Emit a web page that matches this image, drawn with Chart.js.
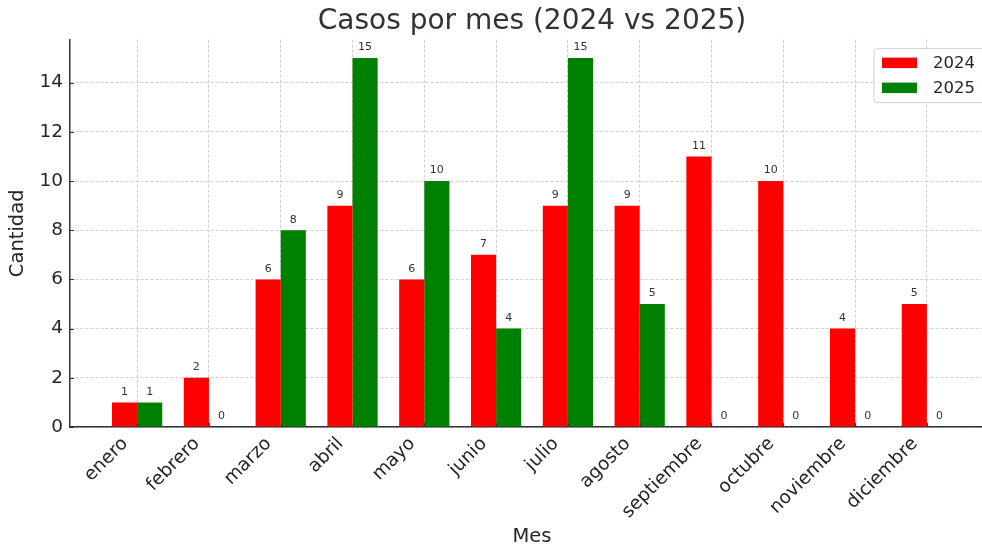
<!DOCTYPE html>
<html>
<head>
<meta charset="utf-8">
<script src="https://cdn.jsdelivr.net/npm/chart.js@4"></script>
<style>
html,body{margin:0;padding:0;background:#fff;overflow:hidden;}
#wrap{width:1000px;height:550px;}
</style>
</head>
<body>
<div id="wrap"><canvas id="c" width="1000" height="550"></canvas></div>
<script>
const months = ["enero","febrero","marzo","abril","mayo","junio","julio","agosto","septiembre","octubre","noviembre","diciembre"];
const casos2024 = [1,2,6,9,6,7,9,9,11,10,4,5];
const casos2025 = [1,0,8,15,10,4,15,5,0,0,0,0];
const yTicks = [0,2,4,6,8,10,12,14];
const seriesNames = ["2024","2025"];
const seriesColors = ["#ff0000","#008000"];

const FONT = "'DejaVu Sans', sans-serif";
const TXT = "#262626";

const valueLabels = {
  id: 'valueLabels',
  afterDatasetsDraw(chart) {
    const ctx = chart.ctx;
    ctx.save();
    ctx.font = "11px " + FONT;
    ctx.fillStyle = "#333";
    ctx.textAlign = "center";
    ctx.textBaseline = "bottom";
    chart.data.datasets.forEach((ds, di) => {
      const meta = chart.getDatasetMeta(di);
      meta.data.forEach((el, i) => {
        ctx.fillText(String(ds.data[i].y), el.x, el.y - 5);
      });
    });
    ctx.restore();
  }
};

// inward tick marks like the reference
const innerTicks = {
  id: 'innerTicks',
  afterDraw(chart) {
    const ctx = chart.ctx;
    const a = chart.chartArea;
    const xs = chart.scales.x, ys = chart.scales.y;
    ctx.save();
    ctx.strokeStyle = '#333';
    ctx.lineWidth = 1.2;
    ctx.beginPath();
    xs.ticks.forEach(t => {
      const px = Math.round(xs.getPixelForValue(t.value)) + 0.5;
      ctx.moveTo(px, a.bottom);
      ctx.lineTo(px, a.bottom - 4);
    });
    ys.ticks.forEach(t => {
      const py = Math.round(ys.getPixelForValue(t.value)) + 0.5;
      ctx.moveTo(a.left, py);
      ctx.lineTo(a.left + 4, py);
    });
    ctx.stroke();
    ctx.restore();
  }
};

const boxLegend = {
  id: 'boxLegend',
  afterDraw(chart) {
    const ctx = chart.ctx;
    const a = chart.chartArea;
    const x0 = a.right - 120, y0 = a.top + 9, w = 114, h = 54;
    ctx.save();
    ctx.beginPath();
    const r = 4;
    ctx.moveTo(x0 + r, y0);
    ctx.lineTo(x0 + w - r, y0);
    ctx.arcTo(x0 + w, y0, x0 + w, y0 + r, r);
    ctx.lineTo(x0 + w, y0 + h - r);
    ctx.arcTo(x0 + w, y0 + h, x0 + w - r, y0 + h, r);
    ctx.lineTo(x0 + r, y0 + h);
    ctx.arcTo(x0, y0 + h, x0, y0 + h - r, r);
    ctx.lineTo(x0, y0 + r);
    ctx.arcTo(x0, y0, x0 + r, y0, r);
    ctx.closePath();
    ctx.fillStyle = "rgba(255,255,255,0.85)";
    ctx.fill();
    ctx.strokeStyle = "#d0d0d0";
    ctx.lineWidth = 1;
    ctx.stroke();
    ctx.font = "16.5px " + FONT;
    ctx.textBaseline = "middle";
    ctx.textAlign = "left";
    chart.data.datasets.forEach((ds, i) => {
      const yy = y0 + 14 + i * 25;
      ctx.fillStyle = ds.backgroundColor;
      ctx.fillRect(x0 + 8, yy - 5, 35, 10.5);
      ctx.fillStyle = TXT;
      ctx.fillText(ds.label, x0 + 59, yy + 1);
    });
    ctx.restore();
  }
};

new Chart(document.getElementById('c'), {
  type: 'bar',
  data: {
    datasets: [
      { label: seriesNames[0], data: casos2024.map((v, i) => ({x: i, y: v})), backgroundColor: seriesColors[0], borderWidth: 0 },
      { label: seriesNames[1], data: casos2025.map((v, i) => ({x: i, y: v})), backgroundColor: seriesColors[1], borderWidth: 0 }
    ]
  },
  options: {
    responsive: false,
    animation: false,
    devicePixelRatio: 1,
    categoryPercentage: 0.7,
    barPercentage: 1.0,
    layout: { padding: { left: 0, right: 6, top: 0, bottom: 0 } },
    plugins: {
      legend: { display: false },
      tooltip: { enabled: false },
      title: {
        display: true,
        fullSize: false,
        text: 'Casos por mes (2024 vs 2025)',
        color: '#333',
        font: { family: FONT, size: 28, weight: 'normal' },
        padding: { top: 5, bottom: 1 }
      }
    },
    scales: {
      x: {
        type: 'linear',
        offset: false,
        min: -0.935,
        max: 11.935,
        afterBuildTicks: (s) => { s.ticks = months.map((m, i) => ({ value: i })); },
        afterFit: (s) => { s.height = 123; },
        ticks: {
          autoSkip: false,
          minRotation: 45,
          maxRotation: 45,
          padding: 6,
          labelOffset: -12,
          color: TXT,
          font: { family: FONT, size: 18.5 },
          callback: (v) => months[v] ?? ''
        },
        grid: {
          offset: false,
          color: '#cfcfcf',
          lineWidth: 1,
          drawTicks: false
        },
        border: { display: true, color: '#333', width: 1.5, dash: [3, 2] },
        title: {
          display: true,
          text: 'Mes',
          color: TXT,
          font: { family: FONT, size: 19.5 },
          padding: { top: 0, bottom: 1 }
        }
      },
      y: {
        type: 'linear',
        min: 0,
        max: 15.75,
        afterBuildTicks: (s) => { s.ticks = yTicks.map(v => ({ value: v })); },
        afterFit: (s) => { s.width = 70; },
        ticks: {
          color: TXT,
          padding: 7,
          font: { family: FONT, size: 18.5 }
        },
        grid: {
          color: '#cfcfcf',
          lineWidth: 1,
          drawTicks: false
        },
        border: { display: true, color: '#333', width: 1.5, dash: [3, 2] },
        title: {
          display: true,
          text: 'Cantidad',
          color: TXT,
          font: { family: FONT, size: 19.5 },
          padding: { top: 6, bottom: 0 }
        }
      }
    }
  },
  plugins: [valueLabels, innerTicks, boxLegend]
});
</script>
</body>
</html>
